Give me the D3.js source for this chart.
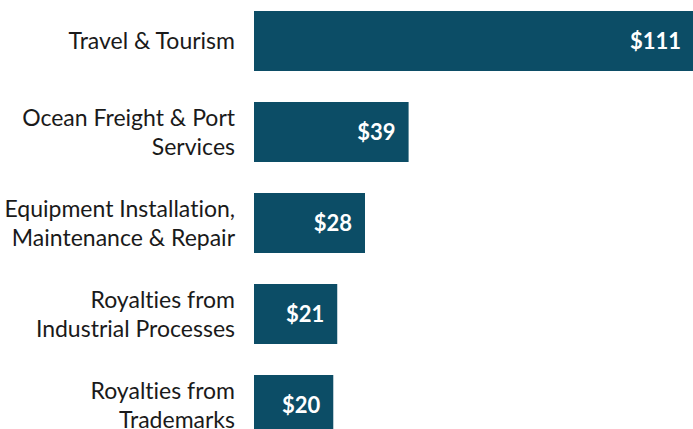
<!DOCTYPE html>
<html>
<head>
<meta charset="utf-8">
<script src="https://cdn.jsdelivr.net/npm/d3@7"></script>
<style>
  body { margin: 0; background: #fff; }
  .cat { font-family: Lato, "Open Sans", sans-serif; font-size: 23px; fill: #1a1a1a; font-variant-ligatures: none; }
  .val { font-family: Lato, "Open Sans", sans-serif; font-size: 22px; font-weight: bold; fill: #fff; }
</style>
</head>
<body>
<div id="chart"></div>
<script>
var width = 693, height = 429;

// data
var categories = [
  "Travel & Tourism",
  "Ocean Freight & Port Services",
  "Equipment Installation, Maintenance & Repair",
  "Royalties from Industrial Processes",
  "Royalties from Trademarks"
];
var labelLines = [
  ["Travel & Tourism"],
  ["Ocean Freight & Port", "Services"],
  ["Equipment Installation,", "Maintenance & Repair"],
  ["Royalties from", "Industrial Processes"],
  ["Royalties from", "Trademarks"]
];
var values = [111, 39, 28, 21, 20];

var svg = d3.select("#chart").append("svg")
  .attr("width", width)
  .attr("height", height);

var x = d3.scaleLinear()
  .domain([0, 111])
  .range([254, 694]);

var y = d3.scaleBand()
  .domain(categories)
  .range([11, 435])
  .paddingInner(31 / 91)
  .paddingOuter(0);

var rows = svg.selectAll(".row")
  .data(categories)
  .enter().append("g")
    .attr("class", "row");

rows.append("rect")
  .attr("x", x(0))
  .attr("y", function(d) { return y(d); })
  .attr("width", function(d, i) { return x(values[i]) - x(0); })
  .attr("height", y.bandwidth())
  .attr("fill", "#0c4d66");

rows.append("text")
  .attr("class", "val")
  .attr("x", function(d, i) { return x(values[i]) - 13; })
  .attr("y", function(d) { return y(d) + y.bandwidth() / 2; })
  .attr("dy", "0.35em")
  .attr("text-anchor", "end")
  .text(function(d, i) { return "$" + values[i]; });

var lineH = 29;
rows.append("text")
  .attr("class", "cat")
  .attr("text-anchor", "end")
  .each(function(d, i) {
    var lines = labelLines[i];
    var cy = y(d) + y.bandwidth() / 2;
    var t = d3.select(this);
    lines.forEach(function(l, j) {
      t.append("tspan")
        .attr("x", 235)
        .attr("y", cy + (j - (lines.length - 1) / 2) * lineH)
        .attr("dy", "0.35em")
        .text(l);
    });
  });
</script>
</body>
</html>
